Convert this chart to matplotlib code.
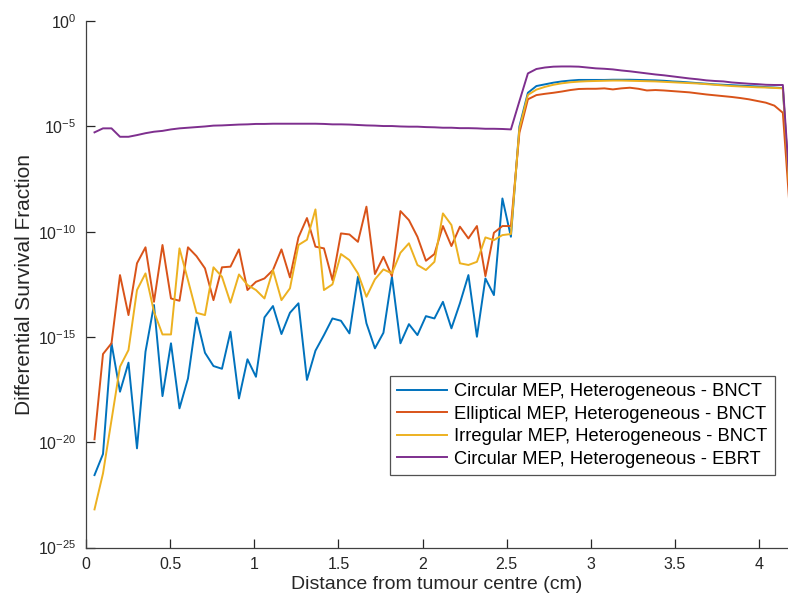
import numpy as np
import matplotlib
matplotlib.use("Agg")
import matplotlib.pyplot as plt
from matplotlib.ticker import FixedLocator, FuncFormatter

plt.rcParams['font.family'] = ['Liberation Sans', 'DejaVu Sans']
plt.rcParams['mathtext.fontset'] = 'custom'
plt.rcParams['mathtext.rm'] = 'Liberation Sans'
plt.rcParams['mathtext.it'] = 'Liberation Sans'

# distance grid (cm)
step = 0.0505
x = np.arange(1, 84) * step

# log10 of differential survival fraction
blue_log = [-21.56, -20.56, -15.30, -17.60, -16.22, -20.29, -15.70, -13.48, -17.81, -15.30,
            -18.39, -16.97, -14.08, -15.75, -16.38, -16.51, -14.75, -17.92, -16.06, -16.89,
            -14.07, -13.53, -14.86, -13.85, -13.40, -17.04, -15.65, -14.91, -14.12, -14.23,
            -14.83, -12.14, -14.35, -15.54, -14.80, -12.14, -15.30, -14.39, -14.91, -14.01,
            -14.12, -13.33, -14.59, -13.40, -12.06, -14.99, -12.22, -13.01, -8.42, -10.24,
            -5.00,
            -3.40, -3.08, -3.00, -2.92, -2.86, -2.82, -2.79, -2.79, -2.79, -2.79,
            -2.78, -2.78, -2.78, -2.79, -2.80, -2.81, -2.83, -2.86, -2.88, -2.91,
            -2.94, -2.97, -3.00, -3.02, -3.04, -3.06, -3.08, -3.10, -3.13, -3.15, -3.18,
            -9.5]

red_log = [-19.86, -15.81, -15.30, -12.06, -13.96, -11.50, -10.74, -13.33, -10.63, -13.17,
           -13.28, -10.74, -11.16, -11.74, -13.25, -11.69, -11.66, -10.84, -12.77, -12.38,
           -12.22, -11.82, -10.84, -12.17, -10.27, -9.35, -10.71, -10.79, -12.30, -10.08,
           -10.13, -10.48, -8.81, -12.01, -11.19, -12.11, -9.02, -9.45, -10.24, -11.38,
           -11.06, -9.73, -10.68, -9.76, -10.32, -9.73, -12.11, -10.05, -9.73, -9.73,
           -5.30,
           -3.71, -3.51, -3.45, -3.40, -3.34, -3.27, -3.22, -3.21, -3.21, -3.19,
           -3.24, -3.19, -3.16, -3.21, -3.29, -3.27, -3.29, -3.32, -3.35, -3.38,
           -3.43, -3.48, -3.52, -3.56, -3.60, -3.65, -3.71, -3.79, -3.87, -4.01, -4.35,
           -10.0]

yellow_log = [-23.19, -21.48, -18.95, -16.41, -15.62, -12.77, -11.98, -13.80, -14.88, -14.88,
              -10.79, -12.30, -13.85, -13.96, -11.69, -12.14, -13.37, -12.03, -12.53, -12.77,
              -13.17, -11.82, -13.25, -12.69, -10.63, -10.38, -8.94, -12.77, -12.50, -11.06,
              -11.35, -11.98, -13.09, -12.26, -11.79, -11.98, -11.00, -10.55, -11.58, -11.82,
              -11.43, -9.13, -9.68, -11.50, -11.58, -11.43, -10.27, -10.40, -10.16, -10.11,
              -5.10,
              -3.50, -3.25, -3.12, -3.02, -2.95, -2.90, -2.87, -2.85, -2.84, -2.83,
              -2.82, -2.82, -2.83, -2.84, -2.85, -2.86, -2.88, -2.90, -2.92, -2.94,
              -2.96, -2.99, -3.02, -3.05, -3.08, -3.10, -3.12, -3.14, -3.15, -3.17, -3.19,
              -9.5]

purple_log = [-5.28, -5.09, -5.09, -5.49, -5.49, -5.41, -5.32, -5.25, -5.21, -5.14,
              -5.09, -5.06, -5.03, -5.00, -4.96, -4.95, -4.93, -4.91, -4.90, -4.88,
              -4.88, -4.87, -4.87, -4.87, -4.87, -4.87, -4.87, -4.88, -4.90, -4.90,
              -4.91, -4.93, -4.95, -4.96, -4.98, -4.98, -5.00, -5.01, -5.01, -5.03,
              -5.04, -5.06, -5.06, -5.08, -5.08, -5.09, -5.11, -5.11, -5.12, -5.14,
              -3.80,
              -2.48, -2.27, -2.20, -2.16, -2.15, -2.15, -2.16, -2.20, -2.24, -2.26,
              -2.29, -2.34, -2.38, -2.43, -2.48, -2.53, -2.57, -2.62, -2.67, -2.72,
              -2.76, -2.81, -2.84, -2.86, -2.91, -2.94, -2.97, -2.99, -3.02, -3.03, -3.03,
              -9.0]

labels = ["Circular MEP, Heterogeneous - BNCT",
          "Elliptical MEP, Heterogeneous - BNCT",
          "Irregular MEP, Heterogeneous - BNCT",
          "Circular MEP, Heterogeneous - EBRT"]
colors = ["#0072BD", "#D95319", "#EDB120", "#7E2F8E"]

xticks = [0, 0.5, 1, 1.5, 2, 2.5, 3, 3.5, 4]
xticklabels = ["0", "0.5", "1", "1.5", "2", "2.5", "3", "3.5", "4"]
yexps = [-25, -20, -15, -10, -5, 0]

W, H = 788, 596
fig = plt.figure(figsize=(W / 100, H / 100), dpi=100)
ax = fig.add_axes([86 / W, (H - 547.5) / H, (W - 86) / W, (547.5 - 21.2) / H])

for series, c, lab in zip([blue_log, red_log, yellow_log, purple_log], colors, labels):
    ax.plot(x, 10.0 ** np.array(series), color=c, lw=1.4, label=lab)

ax.set_yscale('log')
ax.set_ylim(1e-25, 1e0)
ax.set_xlim(0, (W - 85.5) / 168.4)

ax.yaxis.set_major_locator(FixedLocator([10.0 ** e for e in yexps]))
ax.yaxis.set_minor_locator(FixedLocator([]))
ax.yaxis.set_major_formatter(FuncFormatter(lambda v, p: r'$10^{%d}$' % round(np.log10(v))))
ax.set_xticks(xticks)
ax.set_xticklabels(xticklabels)

for s in ['top', 'right']:
    ax.spines[s].set_visible(False)
for s in ['left', 'bottom']:
    ax.spines[s].set_color('#404040')
    ax.spines[s].set_linewidth(0.9)
ax.tick_params(direction='in', length=6.5, width=0.9, colors='#262626', labelsize=11.5, pad=7)

ax.set_xlabel("Distance from tumour centre (cm)", fontsize=14, color='#262626', labelpad=3)
ax.set_ylabel("Differential Survival Fraction", fontsize=15, color='#262626', labelpad=3)

leg = ax.legend(loc='upper left', bbox_to_anchor=(390 / W, 1 - 376 / H),
                bbox_transform=fig.transFigure, fontsize=13.2, frameon=True,
                fancybox=False, edgecolor='#262626', handlelength=2.7,
                borderpad=0.4, labelspacing=0.3, handletextpad=0.4, borderaxespad=0)
leg.get_frame().set_linewidth(0.9)

fig.savefig("out.png", dpi=100)
